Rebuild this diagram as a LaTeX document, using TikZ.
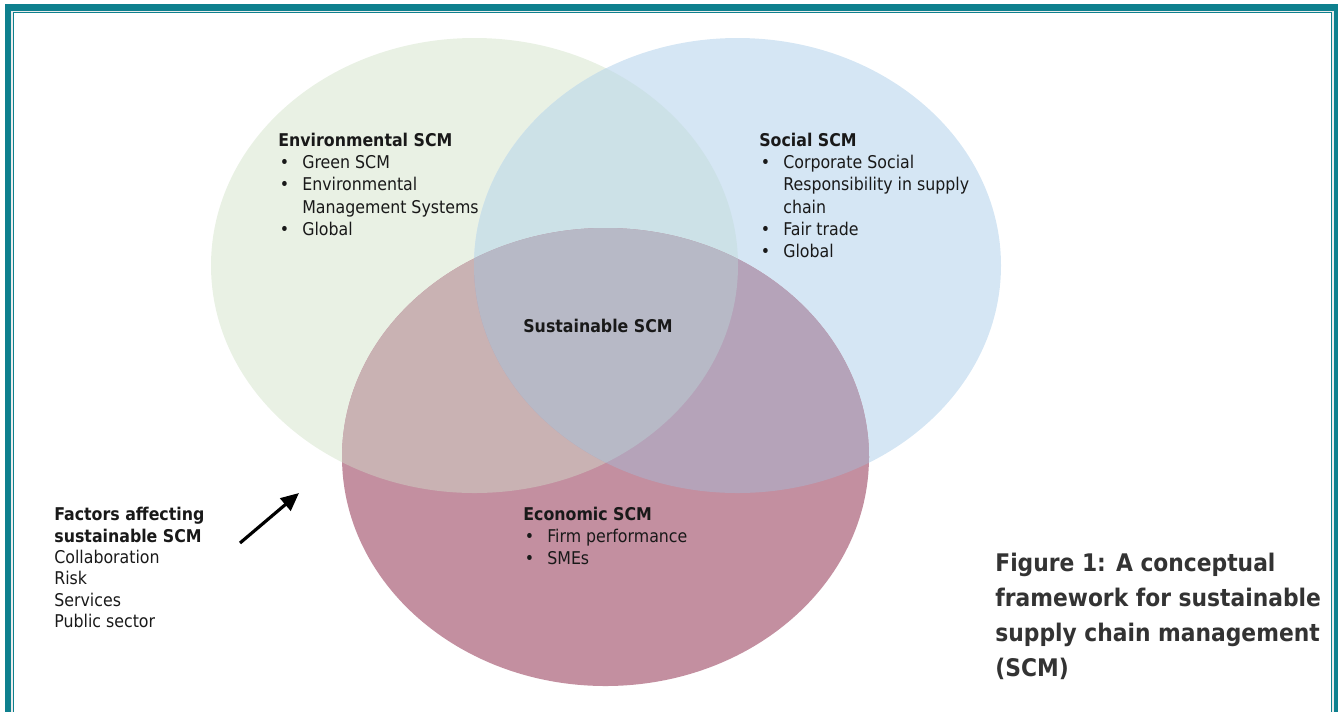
\documentclass[tikz,border=0pt]{standalone}
\usepackage{fontspec}
\setmainfont{DejaVu Sans Condensed}
\usetikzlibrary{arrows.meta}

\definecolor{frameteal}{RGB}{14,128,142}
\definecolor{envfill}{RGB}{233,241,228}
\definecolor{socfill}{RGB}{213,230,244}
\definecolor{ecofill}{RGB}{195,143,160}
\definecolor{envsoc}{RGB}{204,225,231}
\definecolor{enveco}{RGB}{201,178,179}
\definecolor{soceco}{RGB}{181,163,185}
\definecolor{allthree}{RGB}{183,185,198}
\definecolor{captiongray}{RGB}{51,51,51}

% the three circles of the framework
\def\envpath{(474.5,265.5) ellipse [x radius=263.5, y radius=227.5]}
\def\socpath{(737.5,265.5) ellipse [x radius=263.5, y radius=227.5]}
\def\ecopath{(605.5,457) ellipse [x radius=263.5, y radius=229]}

\newcommand{\itm}{\makebox[0.48cm][l]{\hspace*{0.03cm}\textbullet}}
\newcommand{\ind}{\hspace*{0.48cm}}

\tikzset{
  blocktext/.style={anchor=north west, inner sep=0pt, align=left,
    text=black!90, font=\fontsize{10}{12.6}\selectfont},
  caption/.style={anchor=north west, inner sep=0pt, align=left,
    text=captiongray, font=\fontsize{13.8}{19.8}\selectfont\bfseries},
}

\begin{document}
\begin{tikzpicture}[x=0.02cm,y=-0.02cm]
\useasboundingbox (0,0) rectangle (1338,711);
\clip (0,0) rectangle (1338,711);

% plain regions
\fill[envfill] \envpath;
\fill[socfill] \socpath;
\fill[ecofill] \ecopath;
% pairwise overlaps
\begin{scope}
  \clip \envpath;
  \fill[envsoc] \socpath;
  \fill[enveco] \ecopath;
\end{scope}
\begin{scope}
  \clip \socpath;
  \fill[soceco] \ecopath;
\end{scope}
% centre
\begin{scope}
  \clip \envpath;
  \clip \socpath;
  \fill[allthree] \ecopath;
\end{scope}

% outer frame, open at the bottom
\draw[frameteal, line width=5] (9.5,730) -- (9.5,8.5) -- (1335.5,8.5) -- (1335.5,730);
\draw[gray!15, line width=0.8] (12.2,730) -- (12.2,11.2) -- (1332.8,11.2) -- (1332.8,730);

\node[blocktext] (env) at (278,133) {\textbf{Environmental SCM}\\
  \itm Green SCM\\
  \itm Environmental\\
  \ind Management Systems\\
  \itm Global};

\node[blocktext] (soc) at (759,133) {\textbf{Social SCM}\\
  \itm Corporate Social\\
  \ind Responsibility in supply\\
  \ind chain\\
  \itm Fair trade\\
  \itm Global};

\node[blocktext] (sus) at (523,319) {\textbf{Sustainable SCM}};

\node[blocktext] (eco) at (523,507) {\textbf{Economic SCM}\\
  \itm Firm performance\\
  \itm SMEs};

\node[blocktext, font=\fontsize{10}{12.15}\selectfont] (factors) at (54,507)
  {\textbf{Factors affecting}\\
  \textbf{sustainable SCM}\\
  Collaboration\\
  Risk\\
  Services\\
  Public sector};

\coordinate (arrfrom) at (240,543);
\coordinate (arrto) at (299,493);
\draw[line width=1.8pt, -{Triangle[length=0.36cm, width=0.32cm]}] (arrfrom) -- (arrto);

\node[caption] (cap) at (995,553) {Figure 1: A conceptual\\
  framework for sustainable\\
  supply chain management\\
  (SCM)};
\end{tikzpicture}
\end{document}
